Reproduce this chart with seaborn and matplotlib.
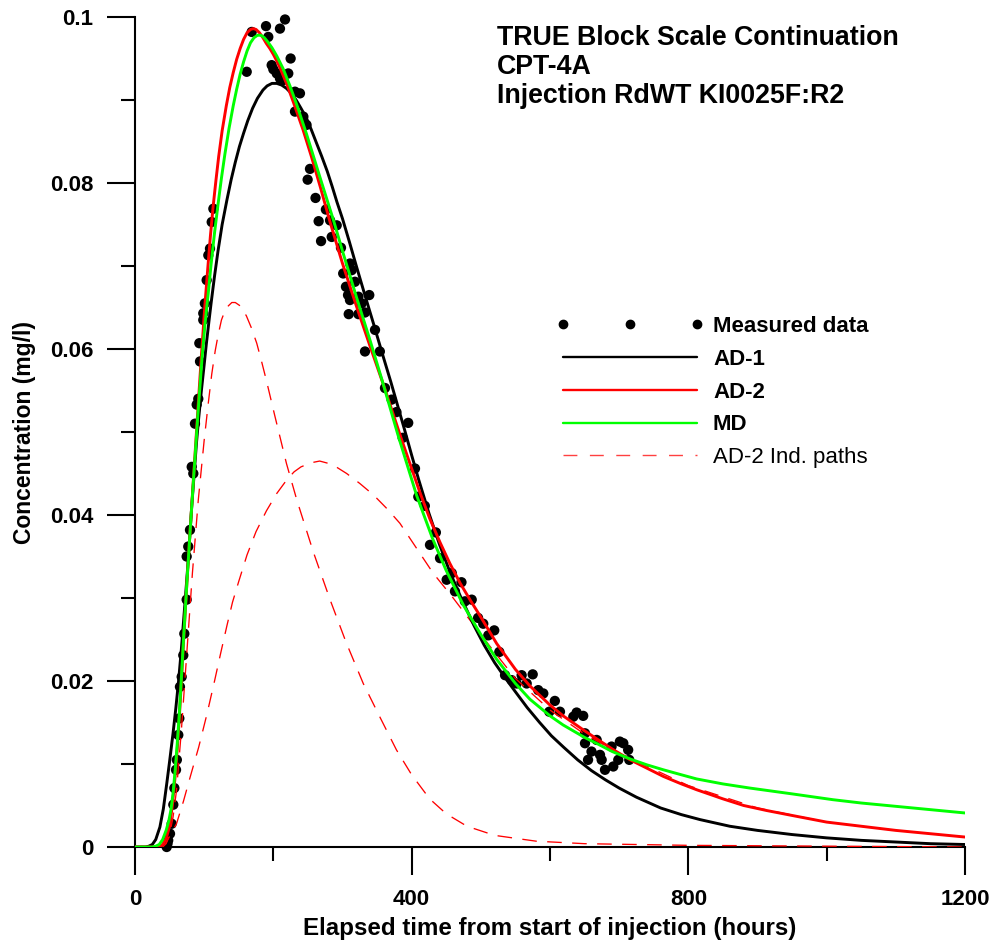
import matplotlib
matplotlib.use("Agg")
import matplotlib.pyplot as plt
from matplotlib.lines import Line2D
from matplotlib.legend_handler import HandlerLine2D
from matplotlib.ticker import MultipleLocator
import seaborn as sns

# ---- breakthrough curves: elapsed time (h) and concentration (mg/l) ----
ad1_t = [0, 15, 20, 25, 30, 36, 41, 46, 50, 55, 59, 63, 67, 70, 73, 76, 79, 82, 86, 89,
         92, 96, 100, 103, 107, 110, 115, 120, 126, 133, 139, 145, 151, 157, 163, 170,
         177, 185, 191, 198, 205, 212, 219, 226, 233, 240, 248, 255, 262, 270, 278, 285,
         292, 300, 310, 320, 332, 345, 357, 370, 380, 390, 400, 410, 425, 440, 455, 470,
         480, 490, 505, 520, 535, 550, 567, 585, 602, 620, 640, 660, 680, 700, 725, 760,
         790, 817, 860, 900, 950, 1000, 1050, 1100, 1150, 1200]
ad1_c = [0, 0, 0.0001, 0.0003, 0.0009, 0.0024, 0.0046, 0.0077, 0.0103, 0.0137, 0.0167,
         0.0200, 0.0238, 0.0270, 0.0302, 0.0335, 0.0372, 0.0410, 0.0455, 0.0488, 0.0516,
         0.0550, 0.0581, 0.0605, 0.0634, 0.0655, 0.0688, 0.0718, 0.0750, 0.0780, 0.0804,
         0.0825, 0.0844, 0.0860, 0.0875, 0.0890, 0.0902, 0.0912, 0.0917, 0.0920, 0.0920,
         0.0918, 0.0914, 0.0908, 0.0900, 0.0890, 0.0878, 0.0864, 0.0849, 0.0832, 0.0814,
         0.0796, 0.0777, 0.0757, 0.0729, 0.0700, 0.0666, 0.0630, 0.0596, 0.0560, 0.0531,
         0.0502, 0.0472, 0.0443, 0.0402, 0.0365, 0.0332, 0.0303, 0.0285, 0.0267, 0.0243,
         0.0222, 0.0204, 0.0187, 0.0168, 0.0150, 0.0134, 0.0120, 0.0105, 0.0092, 0.0081,
         0.0071, 0.0060, 0.0047, 0.0039, 0.0033, 0.0025, 0.0020, 0.0015, 0.0011, 0.0008,
         0.0006, 0.0004, 0.0003]

ad2_t = [0, 30, 35, 40, 45, 50, 54, 58, 61, 64, 67, 70, 75, 80, 85, 91, 96, 101, 105, 109,
         113, 117, 121, 126, 132, 137, 142, 147, 152, 157, 162, 167, 171, 175, 180, 185,
         190, 195, 200, 205, 210, 220, 230, 243, 255, 268, 282, 300, 320, 340, 360, 385,
         412, 426, 441, 455, 470, 485, 500, 523, 550, 571, 600, 619, 650, 670, 690, 716,
         740, 764, 790, 812, 850, 880, 913, 950, 1000, 1050, 1100, 1150, 1200]
ad2_c = [0, 0, 0.0001, 0.0003, 0.0010, 0.0025, 0.0050, 0.0085, 0.0117, 0.0155, 0.0198,
         0.0245, 0.0318, 0.0385, 0.0450, 0.0528, 0.0592, 0.0652, 0.0695, 0.0736, 0.0772,
         0.0803, 0.0832, 0.0863, 0.0893, 0.0915, 0.0933, 0.0949, 0.0962, 0.0973, 0.0981,
         0.0985, 0.0986, 0.0985, 0.0981, 0.0975, 0.0968, 0.0962, 0.0955, 0.0947, 0.0938,
         0.0918, 0.0895, 0.0864, 0.0832, 0.0795, 0.0753, 0.0703, 0.0652, 0.0603, 0.0555,
         0.0492, 0.0427, 0.0396, 0.0367, 0.0342, 0.0318, 0.0297, 0.0277, 0.0245, 0.0214,
         0.0194, 0.0171, 0.0158, 0.0140, 0.0129, 0.0118, 0.0105, 0.0095, 0.0085, 0.0076,
         0.0069, 0.0058, 0.0050, 0.0044, 0.0038, 0.0030, 0.0025, 0.0020, 0.0016, 0.0012]

md_t = [0, 25, 30, 35, 40, 45, 49, 52, 55, 58, 61, 64, 67, 70, 75, 80, 85, 91, 97, 101,
        106, 110, 115, 120, 125, 130, 136, 142, 147, 152, 157, 162, 167, 172, 177, 182,
        187, 192, 198, 205, 214, 224, 234, 248, 267, 287, 300, 320, 340, 357, 380, 407,
        430, 450, 475, 500, 523, 550, 571, 600, 619, 650, 667, 690, 716, 740, 764, 790,
        812, 850, 889, 950, 1009, 1050, 1100, 1150, 1200]
md_c = [0, 0, 0.0001, 0.0003, 0.0009, 0.0020, 0.0032, 0.0045, 0.0065, 0.0092, 0.0124,
        0.0160, 0.0203, 0.0248, 0.0318, 0.0385, 0.0448, 0.0522, 0.0590, 0.0628, 0.0668,
        0.0702, 0.0740, 0.0774, 0.0806, 0.0835, 0.0866, 0.0893, 0.0913, 0.0931, 0.0946,
        0.0959, 0.0969, 0.0975, 0.0978, 0.0978, 0.0975, 0.0970, 0.0963, 0.0953, 0.0938,
        0.0917, 0.0894, 0.0859, 0.0808, 0.0755, 0.0718, 0.0663, 0.0610, 0.0563, 0.0497,
        0.0424, 0.0372, 0.0333, 0.0291, 0.0256, 0.0226, 0.0197, 0.0178, 0.0158, 0.0147,
        0.0132, 0.0125, 0.0115, 0.0106, 0.0099, 0.0093, 0.0087, 0.0082, 0.0076, 0.0071,
        0.0064, 0.0057, 0.0053, 0.0049, 0.0045, 0.0041]

# AD-2 individual flow paths
path1_t = [0, 40, 45, 50, 55, 60, 67, 75, 83, 91.5, 100, 106, 111, 116, 120, 125, 130,
           135, 140, 145, 152, 161, 168, 176, 183, 190, 202, 219, 234, 258, 282, 305, 330,
           355, 378, 400, 426, 450, 480, 520, 580, 650, 800, 1000, 1200]
path1_c = [0, 0, 0.0004, 0.0015, 0.0036, 0.0068, 0.0140, 0.0235, 0.0330, 0.0418, 0.0490,
           0.0535, 0.0570, 0.0598, 0.0616, 0.0635, 0.0646, 0.0652, 0.0656, 0.0656, 0.0652,
           0.0640, 0.0626, 0.0607, 0.0585, 0.0562, 0.0520, 0.0462, 0.0418, 0.0355, 0.0298,
           0.0247, 0.0197, 0.0155, 0.0117, 0.0087, 0.0058, 0.0040, 0.0025, 0.0014, 0.0007,
           0.0004, 0.0002, 0.0001, 0.0]

path2_t = [0, 35, 45, 60, 70, 80, 92, 104, 115, 124, 133, 141, 150, 162, 175, 190, 205,
           220, 230, 240, 255, 267, 285, 306, 325, 345, 365, 383, 407, 431, 460, 480, 513,
           550, 600, 650, 700, 800, 900, 1000, 1100, 1200]
path2_c = [0, 0, 0.0005, 0.0028, 0.0055, 0.0085, 0.0120, 0.0160, 0.0200, 0.0234, 0.0267,
           0.0295, 0.0320, 0.0352, 0.0380, 0.0405, 0.0426, 0.0443, 0.0452, 0.0458, 0.0463,
           0.0465, 0.0461, 0.0450, 0.0438, 0.0424, 0.0407, 0.0390, 0.0360, 0.0330, 0.0300,
           0.0278, 0.0242, 0.0203, 0.0165, 0.0136, 0.0113, 0.0074, 0.0047, 0.0030, 0.0020,
           0.0012]

# ---- measured data ----
meas_t = [45.8, 47.0, 48.0, 50.6, 53.0, 55.4, 56.9, 59.3, 60.5, 62.6, 64.1, 65.0, 67.5,
          69.8, 71.3, 74.7, 74.7, 77.0, 79.5, 82.0, 84.3, 86.7, 89.2, 91.5, 94.0, 93.0,
          98.7, 98.7, 101.0, 103.6, 106.0, 108.4, 110.9, 113.3,
          161.5, 168.7, 189.4, 192.7, 209.6, 216.9, 197.6, 200.0, 204.9, 209.6, 214.4,
          221.6, 225.0, 231.3, 238.5, 231.3, 243.4, 248.0, 253.0, 249.6, 261.0, 276.0,
          265.5, 282.0, 291.6, 284.4, 269.0, 297.8, 301.0, 310.8, 313.3, 318.0, 305.0,
          308.0, 323.0, 310.8, 338.7, 327.7, 332.5, 309.0, 323.0, 347.0, 332.5, 354.0,
          361.4, 371.0, 378.0, 395.0, 387.0, 404.8, 409.6, 419.0, 435.0, 426.5, 441.0,
          458.0, 450.6, 472.0, 462.6, 486.8, 477.0, 496.0, 503.5, 510.8, 519.4, 526.7,
          535.0, 544.6, 551.8, 559.0, 575.0, 566.3, 583.0, 590.3, 607.0, 599.0, 614.4,
          633.7, 638.5, 648.0, 650.6, 650.6, 660.0, 655.0, 667.5, 672.3, 674.7, 679.5,
          689.0, 691.5, 701.0, 706.0, 698.7, 713.0, 714.6]
meas_c = [0.0000, 0.0004, 0.0008, 0.0016, 0.0028, 0.0051, 0.0071, 0.0093, 0.0105, 0.0135,
          0.0155, 0.0193, 0.0205, 0.0231, 0.0257, 0.0298, 0.0350, 0.0362, 0.0382, 0.0458,
          0.0450, 0.0510, 0.0533, 0.0540, 0.0585, 0.0607, 0.0635, 0.0643, 0.0655, 0.0683,
          0.0713, 0.0721, 0.0753, 0.0769,
          0.0934, 0.0982, 0.0989, 0.0976, 0.0986, 0.0997, 0.0942, 0.0937, 0.0932, 0.0926,
          0.0924, 0.0932, 0.0950, 0.0910, 0.0908, 0.0886, 0.0880, 0.0870, 0.0817, 0.0804,
          0.0782, 0.0768, 0.0754, 0.0755, 0.0749, 0.0735, 0.0730, 0.0722, 0.0691, 0.0703,
          0.0695, 0.0681, 0.0675, 0.0665, 0.0663, 0.0659, 0.0665, 0.0655, 0.0644, 0.0642,
          0.0642, 0.0623, 0.0597, 0.0597, 0.0553, 0.0539, 0.0524, 0.0511, 0.0493, 0.0456,
          0.0422, 0.0411, 0.0379, 0.0364, 0.0348, 0.0330, 0.0322, 0.0319, 0.0308, 0.0298,
          0.0296, 0.0276, 0.0269, 0.0255, 0.0261, 0.0235, 0.0207, 0.0201, 0.0197, 0.0207,
          0.0208, 0.0197, 0.0189, 0.0185, 0.0176, 0.0163, 0.0163, 0.0157, 0.0162, 0.0158,
          0.0137, 0.0125, 0.0115, 0.0105, 0.0129, 0.0111, 0.0105, 0.0093, 0.0121, 0.0097,
          0.0127, 0.0125, 0.0105, 0.0117, 0.0105]

x_ticks = [0, 400, 800, 1200]
y_ticks = [0, 0.02, 0.04, 0.06, 0.08, 0.1]
y_tick_labels = ["0", "0.02", "0.04", "0.06", "0.08", "0.1"]
title_lines = ["TRUE Block Scale Continuation", "CPT-4A", "Injection RdWT KI0025F:R2"]
legend_labels = ["Measured data", "AD-1", "AD-2", "MD", "AD-2 Ind. paths"]

RED = "#ff0000"
GREEN = "#00ff00"

sns.set_style("ticks")
plt.rcParams["font.family"] = ["Liberation Sans", "DejaVu Sans"]
plt.rcParams["lines.scale_dashes"] = False
for key in ("text.color", "axes.labelcolor", "xtick.color", "ytick.color",
            "axes.edgecolor"):
    plt.rcParams[key] = "black"

W, H = 994, 940
fig = plt.figure(figsize=(W / 100, H / 100), dpi=100)
ax = fig.add_axes([135 / W, 93 / H, 830 / W, 830 / H])

sns.scatterplot(x=meas_t, y=meas_c, color="black", s=55, linewidth=0,
                edgecolor="none", ax=ax, zorder=2, clip_on=False, legend=False)

dash = (0, (10.5, 7.5))
for t, c in ((path1_t, path1_c), (path2_t, path2_c)):
    sns.lineplot(x=t, y=c, color=RED, linewidth=0.95, linestyle=dash,
                 estimator=None, sort=False, ax=ax, zorder=3, legend=False)
sns.lineplot(x=ad1_t, y=ad1_c, color="black", linewidth=2.1,
             estimator=None, sort=False, ax=ax, zorder=4, legend=False)
sns.lineplot(x=ad2_t, y=ad2_c, color=RED, linewidth=2.1,
             estimator=None, sort=False, ax=ax, zorder=5, legend=False)
sns.lineplot(x=md_t, y=md_c, color=GREEN, linewidth=2.1,
             estimator=None, sort=False, ax=ax, zorder=6, legend=False)

ax.set_xlim(0, 1200)
ax.set_ylim(0, 0.1)
ax.set_xticks(x_ticks)
ax.set_xticklabels([str(v) for v in x_ticks])
ax.set_yticks(y_ticks)
ax.set_yticklabels(y_tick_labels)
ax.xaxis.set_minor_locator(MultipleLocator(200))
ax.yaxis.set_minor_locator(MultipleLocator(0.01))
sns.despine(ax=ax)
for sp in ("left", "bottom"):
    ax.spines[sp].set_linewidth(1.5)
    ax.spines[sp].set_color("black")
ax.tick_params(which="major", direction="out", length=20, width=1.5,
               color="black", labelsize=16, pad=10, labelcolor="black")
ax.tick_params(which="minor", direction="out", length=10, width=1.5, color="black")
for lbl in ax.get_xticklabels() + ax.get_yticklabels():
    lbl.set_fontweight("bold")

ax.set_xlabel("Elapsed time from start of injection (hours)", fontsize=17.4,
              fontweight="bold", labelpad=5.5, color="black")
ax.set_ylabel("Concentration (mg/l)", fontsize=16.5, fontweight="bold",
              labelpad=10, color="black")

for i, line in enumerate(title_lines):
    fig.text(497 / W, 1 - (45 + 29 * i) / H, line, fontsize=19.3,
             fontweight="bold", ha="left", va="baseline", color="black")

handles = [
    Line2D([], [], linestyle="none", marker="o", markersize=6, color="black"),
    Line2D([], [], color="black", linewidth=1.7),
    Line2D([], [], color=RED, linewidth=1.7),
    Line2D([], [], color=GREEN, linewidth=1.7),
    Line2D([], [], color="#ff4040", linewidth=1.0, linestyle=(0, (10, 9))),
]
leg = ax.legend(handles, legend_labels, loc="upper left",
                bbox_to_anchor=(563 / W, 1 - 316 / H), bbox_transform=fig.transFigure,
                frameon=False, fontsize=16, handlelength=6.03, handletextpad=0.72,
                labelspacing=0.53, borderpad=0, borderaxespad=0, numpoints=3,
                handler_map={Line2D: HandlerLine2D(marker_pad=0)})
for i, txt in enumerate(leg.get_texts()):
    txt.set_color("black")
    txt.set_fontweight("normal" if i == len(legend_labels) - 1 else "bold")

fig.savefig("out.png", dpi=100)
